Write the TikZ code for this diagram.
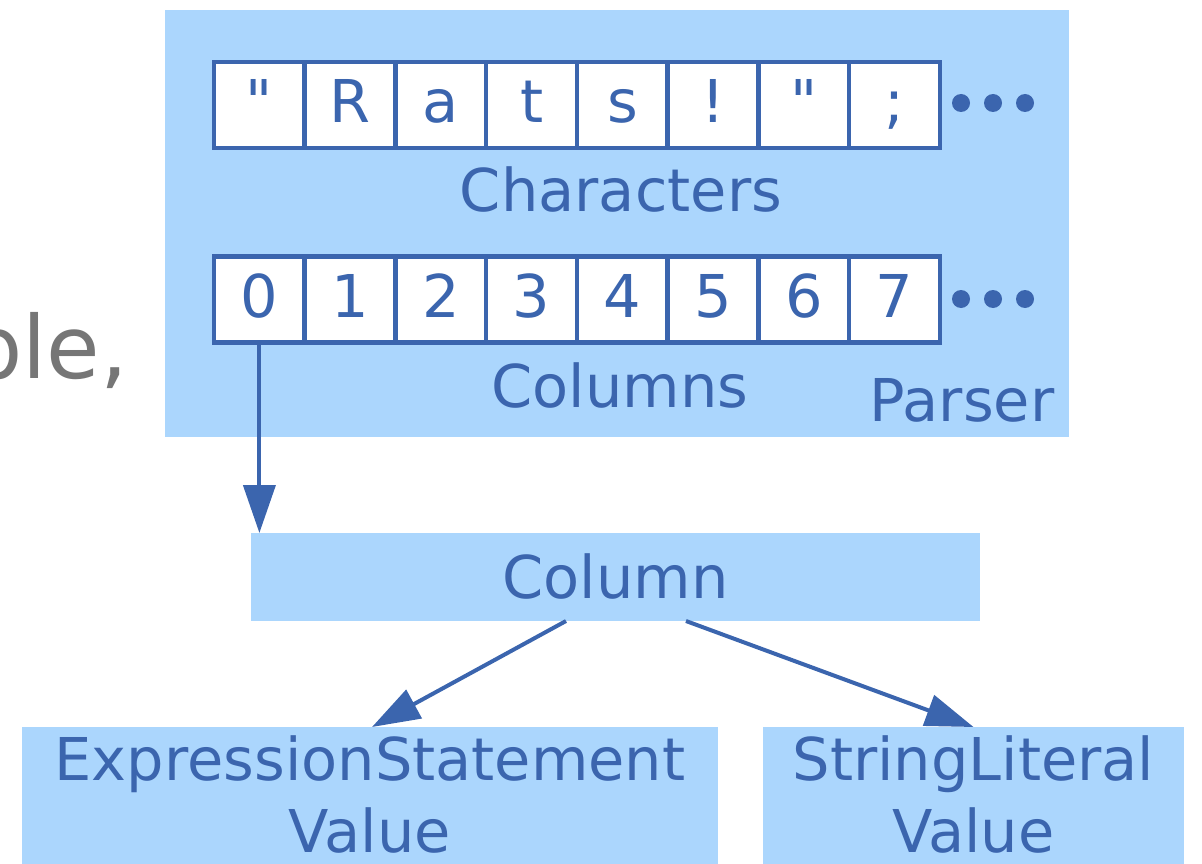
\documentclass[tikz,border=0pt]{standalone}
\usepackage{fontspec}
\setmainfont{DejaVu Sans}
\newfontfamily\quotefont{DejaVu Sans}[Ligatures=TeXOff]
\usetikzlibrary{arrows.meta}
\definecolor{panelblue}{HTML}{ABD6FD}
\definecolor{inkblue}{HTML}{3B65AE}
\definecolor{graytext}{HTML}{767676}
\begin{document}
\begin{tikzpicture}[x=1pt,y=-1pt,
  every node/.style={font=\fontsize{59pt}{72pt}\selectfont, text=inkblue, inner sep=0pt, outer sep=0pt},
  panel/.style={fill=panelblue, draw=none, rectangle},
  cell/.style={draw=inkblue, fill=white, line width=4.5pt, minimum width=90.75pt, minimum height=86pt, text height=36pt, text depth=0pt},
  lbl/.style={anchor=base},
  link/.style={draw=inkblue, line width=4pt, -{Triangle[length=48pt,width=32pt]}},
  dotmark/.style={fill=inkblue}]
\useasboundingbox (0,0) rectangle (1202,864);
\clip (0,0) rectangle (1202,864);
% gray text at left
\node[anchor=base east, text=graytext, font=\fontsize{87pt}{100pt}\selectfont] (side) at (128,378) {ple,};
% parser panel
\node[panel, minimum width=904pt, minimum height=427pt] (parser) at (617,223.5) {};
% characters row
\node[cell] (c0) at (259.4,105) {\quotefont"};
\node[cell] (c1) at (350.1,105) {R};
\node[cell] (c2) at (440.9,105) {a};
\node[cell] (c3) at (531.6,105) {t};
\node[cell] (c4) at (622.4,105) {s};
\node[cell] (c5) at (713.1,105) {!};
\node[cell] (c6) at (803.9,105) {\quotefont"};
\node[cell] (c7) at (894.6,105) {;};
\fill[dotmark] (961,103) circle[radius=9pt] (993,103) circle[radius=9pt] (1025,103) circle[radius=9pt];
\node[lbl] (chars) at (621,211) {Characters};
% columns row
\node[cell] (n0) at (259.4,299.5) {0};
\node[cell] (n1) at (350.1,299.5) {1};
\node[cell] (n2) at (440.9,299.5) {2};
\node[cell] (n3) at (531.6,299.5) {3};
\node[cell] (n4) at (622.4,299.5) {4};
\node[cell] (n5) at (713.1,299.5) {5};
\node[cell] (n6) at (803.9,299.5) {6};
\node[cell] (n7) at (894.6,299.5) {7};
\fill[dotmark] (961,299) circle[radius=9pt] (993,299) circle[radius=9pt] (1025,299) circle[radius=9pt];
\node[lbl] (cols) at (620,407) {Columns};
\node[lbl] (parserlbl) at (962,421) {Parser};
% column box
\node[panel, minimum width=729pt, minimum height=88pt, text height=42pt, text depth=0pt] (col) at (615.5,577) {Column};
% value boxes
\node[panel, minimum width=696pt, minimum height=140pt] (expr) at (370,797) {};
\node[lbl] (exprA) at (370,780) {ExpressionStatement};
\node[lbl] (exprB) at (370,852) {Value};
\node[panel, minimum width=421pt, minimum height=140pt] (lit) at (973.5,797) {};
\node[lbl] (litA) at (973.5,780) {StringLiteral};
\node[lbl] (litB) at (973.5,852) {Value};
% connectors
\draw[link] (n0.south) -- (n0.south |- col.north);
\draw[link] ([xshift=-49.5pt]col.south) -- ([xshift=2pt]expr.north);
\draw[link] ([xshift=70.5pt]col.south) -- (lit.north);
\end{tikzpicture}
\end{document}
